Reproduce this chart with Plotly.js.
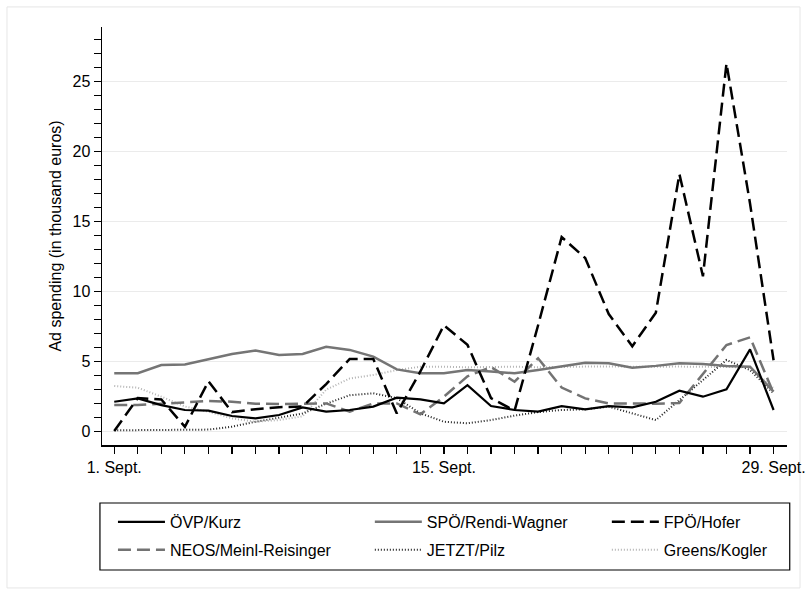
<!DOCTYPE html>
<html>
<head>
<meta charset="utf-8">
<script src="https://cdn.plot.ly/plotly-3.0.1.min.js"></script>
<style>html,body{margin:0;padding:0;background:#fff;}#chart{width:806px;height:594px;}</style>
</head>
<body>
<div id="chart"></div>
<script>
const days = [1,2,3,4,5,6,7,8,9,10,11,12,13,14,15,16,17,18,19,20,21,22,23,24,25,26,27,28,29];
const tickVals = [1, 15, 29];
const tickLabels = ['1. Sept.', '15. Sept.', '29. Sept.'];
const ovp   = [2.14,2.38,1.9,1.55,1.5,1.12,0.95,1.19,1.74,1.43,1.55,1.79,2.43,2.31,2.03,3.33,1.83,1.55,1.43,1.83,1.6,1.83,1.74,2.14,2.93,2.5,3.03,5.88,1.55];
const spo   = [4.17,4.17,4.76,4.8,5.17,5.55,5.79,5.48,5.55,6.07,5.84,5.36,4.45,4.17,4.17,4.4,4.29,4.17,4.4,4.64,4.93,4.88,4.57,4.7,4.88,4.83,4.69,4.64,2.86];
const fpo   = [0.05,2.4,2.3,0.35,3.6,1.4,1.6,1.75,1.8,3.4,5.2,5.2,1.3,4.3,7.6,6.2,2.4,1.5,7.6,13.9,12.4,8.4,6.1,8.5,18.4,11.1,26.3,16.3,5.1];
const neos  = [1.9,1.9,2.0,2.1,2.19,2.14,2.0,1.98,1.98,2.02,1.43,2.02,2.02,1.24,2.5,3.95,4.62,3.57,5.24,3.15,2.38,2.02,2.02,2.0,2.05,4.1,6.19,6.74,2.74];
const jetzt = [0.1,0.1,0.1,0.1,0.15,0.36,0.71,1.0,1.3,2.0,2.6,2.74,2.4,1.31,0.71,0.6,0.83,1.15,1.4,1.55,1.6,1.79,1.31,0.83,2.26,3.7,5.12,4.4,2.74];
const greens= [3.26,3.14,2.5,1.8,1.43,0.95,0.71,0.83,1.1,3.0,3.8,4.05,4.4,4.64,4.64,4.6,4.62,4.64,4.6,4.64,4.65,4.65,4.62,4.64,4.65,4.64,4.6,4.6,3.1];
const names = ['ÖVP/Kurz','SPÖ/Rendi-Wagner','FPÖ/Hofer','NEOS/Meinl-Reisinger','JETZT/Pilz','Greens/Kogler'];

const FONT = 'Liberation Sans, Arial, Helvetica, sans-serif';
function tr(y, name, color, width, dash, leg) {
  return {x: days, y: y, name: name, type: 'scatter', mode: 'lines',
    line: {color: color, width: width, dash: dash}, legend: leg, hoverinfo: 'skip'};
}
const data = [
  tr(greens, names[5], '#b4b4b4', 2, '1px,2px', 'legend6'),
  tr(jetzt,  names[4], '#222222', 2, '1px,2px', 'legend5'),
  tr(neos,   names[3], '#737373', 2.5, '13px,6px', 'legend4'),
  tr(spo,    names[1], '#757575', 2.5, 'solid', 'legend2'),
  tr(ovp,    names[0], '#000000', 2.2, 'solid', 'legend'),
  tr(fpo,    names[2], '#000000', 2.5, '13px,6px', 'legend3')
];
function leg(x, y) {
  return {x: x, y: y, xanchor: 'left', yanchor: 'middle', orientation: 'v',
    bgcolor: 'rgba(0,0,0,0)', borderwidth: 0, itemwidth: 47,
    font: {family: FONT, size: 16, color: '#000'}};
}
const r1 = -0.184, r2 = -0.251;
const layout = {
  width: 806, height: 594,
  margin: {l: 102, r: 19, t: 27, b: 149},
  paper_bgcolor: '#ffffff', plot_bgcolor: '#ffffff',
  font: {family: FONT, size: 16, color: '#000'},
  showlegend: true,
  legend: leg(0.016, r1),
  legend2: leg(0.391, r1),
  legend3: leg(0.737, r1),
  legend4: leg(0.016, r2),
  legend5: leg(0.391, r2),
  legend6: leg(0.737, r2),
  xaxis: {
    range: [0.48, 29.57], showgrid: false, zeroline: false,
    showline: true, linecolor: '#000', linewidth: 1.5,
    tickmode: 'array', tickvals: tickVals, ticktext: tickLabels,
    ticks: 'outside', ticklen: 7, tickwidth: 1.2, tickcolor: '#000',
    tickfont: {family: FONT, size: 16, color: '#000'},
    minor: {tickmode: 'linear', tick0: 1, dtick: 1, ticks: 'outside', ticklen: 7, tickwidth: 1.2, tickcolor: '#000', showgrid: false},
    fixedrange: true
  },
  yaxis: {
    range: [-0.95, 28.9], showgrid: true, gridcolor: '#ebebeb', gridwidth: 1.2, zeroline: false,
    showline: true, linecolor: '#000', linewidth: 1.5,
    tickmode: 'linear', tick0: 0, dtick: 5,
    ticks: 'outside', ticklen: 7, tickwidth: 1.2, tickcolor: '#000',
    tickfont: {family: FONT, size: 16, color: '#000'},
    minor: {tickmode: 'linear', tick0: 0, dtick: 1, ticks: 'outside', ticklen: 7, tickwidth: 1.2, tickcolor: '#000', showgrid: false},
    title: {text: 'Ad spending (in thousand euros)', font: {family: FONT, size: 16, color: '#000'}, standoff: 7},
    automargin: false, fixedrange: true
  },
  shapes: [
    {type: 'rect', xref: 'paper', yref: 'paper', x0: -0.1387, x1: 1.019, y0: -0.342, y1: 1.048,
      line: {color: '#e6e6e6', width: 1}, fillcolor: 'rgba(0,0,0,0)', layer: 'below'},
    {type: 'rect', xref: 'paper', yref: 'paper', x0: -0.003, x1: 1.004, y0: -0.299, y1: -0.1388,
      line: {color: '#000', width: 1.2}, fillcolor: 'rgba(0,0,0,0)'}
  ]
};
Plotly.newPlot('chart', data, layout, {displayModeBar: false, staticPlot: true});
</script>
</body>
</html>
